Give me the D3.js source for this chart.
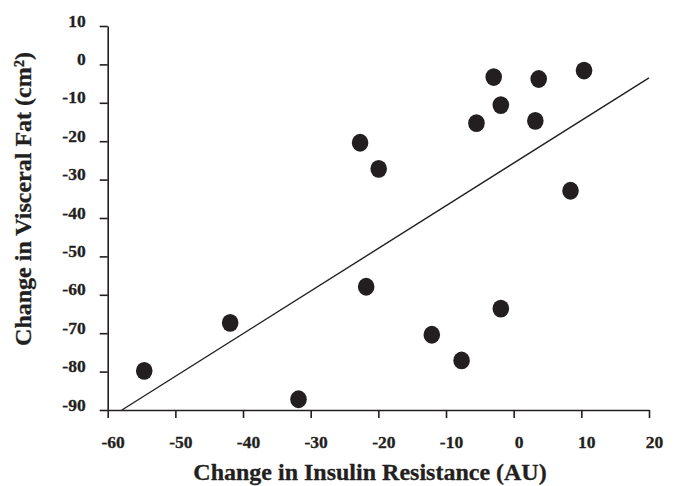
<!DOCTYPE html>
<html>
<head>
<meta charset="utf-8">
<script src="https://cdn.jsdelivr.net/npm/d3@7"></script>
<style>
  html, body { margin: 0; padding: 0; background: #fff; }
  svg { display: block; }
  text { font-family: 'Liberation Serif', 'Times New Roman', serif; font-weight: bold; fill: #231f20; stroke: #231f20; stroke-width: 0.3px; }
</style>
</head>
<body>
<div id="chart"></div>
<script>
// insulin resistance change (AU) vs visceral fat change (cm2)
const insulinChange = [-2.95, 3.7, 10.4, -1.9, -5.5, 3.2, -22.7, -19.95, 8.4, -54.6, -41.9, -31.8, -21.8, -12.1, -7.7, -1.9];
const fatChange     = [-3.3, -3.8, -1.6, -10.6, -15.3, -14.7, -20.4, -27.2, -32.9, -79.8, -67.3, -87.2, -57.9, -70.4, -77.1, -63.6];
// fit line end points
const fitX = [-57.9, 20];
const fitY = [-90, -3.5];
const xTicks = [-60, -50, -40, -30, -20, -10, 0, 10, 20];
const yTicks = [10, 0, -10, -20, -30, -40, -50, -60, -70, -80, -90];

(function () {
  'use strict';
  const W = 678, H = 486;
  const ink = '#231f20';
  const svg = d3.select('#chart').append('svg').attr('width', W).attr('height', H);

  const x = d3.scaleLinear().domain([-60, 20]).range([107.7, 649]);
  const y = d3.scaleLinear().domain([-90, 10]).range([410, 26]);
  const fmt = d => String(d); // plain hyphen minus like the original

  function styleAxis(g) {
    g.attr('font-size', 17.5).attr('font-family', "'Liberation Serif', serif").attr('font-weight', 'bold');
    g.select('.domain').attr('stroke', ink).attr('stroke-width', 1.6);
    g.selectAll('.tick line').attr('stroke', ink).attr('stroke-width', 1.6);
    g.selectAll('.tick text').attr('dy', '0em').attr('fill', ink).style('font-size', '17.5px');
  }

  // y axis
  const gy = svg.append('g').attr('transform', 'translate(107.7,0)')
    .call(d3.axisLeft(y).tickValues(yTicks).tickSize(8).tickSizeOuter(0).tickPadding(14).tickFormat(fmt));
  styleAxis(gy);

  // x axis
  const gx = svg.append('g').attr('transform', 'translate(0,410)')
    .call(d3.axisBottom(x).tickValues(xTicks).tickSize(8).tickSizeOuter(0).tickPadding(30).tickFormat(fmt));
  styleAxis(gx);
  gx.selectAll('.tick text').attr('dx', 5);

  // regression line
  const pts = fitX.map((v, i) => [v, fitY[i]]);
  svg.append('path').datum(pts)
    .attr('fill', 'none').attr('stroke', ink).attr('stroke-width', 1.4)
    .attr('d', d3.line().x(d => x(d[0])).y(d => y(d[1])));

  // points
  svg.selectAll('.dot').data(insulinChange.map((v, i) => ({ x: v, y: fatChange[i] })))
    .enter().append('ellipse').attr('class', 'dot')
    .attr('cx', d => x(d.x)).attr('cy', d => y(d.y))
    .attr('rx', 8.3).attr('ry', 8.9).attr('fill', ink);

  // titles
  svg.append('text').attr('x', 370).attr('y', 480).attr('text-anchor', 'middle')
    .style('font-size', '24px').text('Change in Insulin Resistance (AU)');
  svg.append('text').attr('transform', 'translate(31,199) rotate(-90)').attr('text-anchor', 'middle')
    .style('font-size', '24px').text('Change in Visceral Fat (cm²)');
})();
</script>
</body>
</html>
